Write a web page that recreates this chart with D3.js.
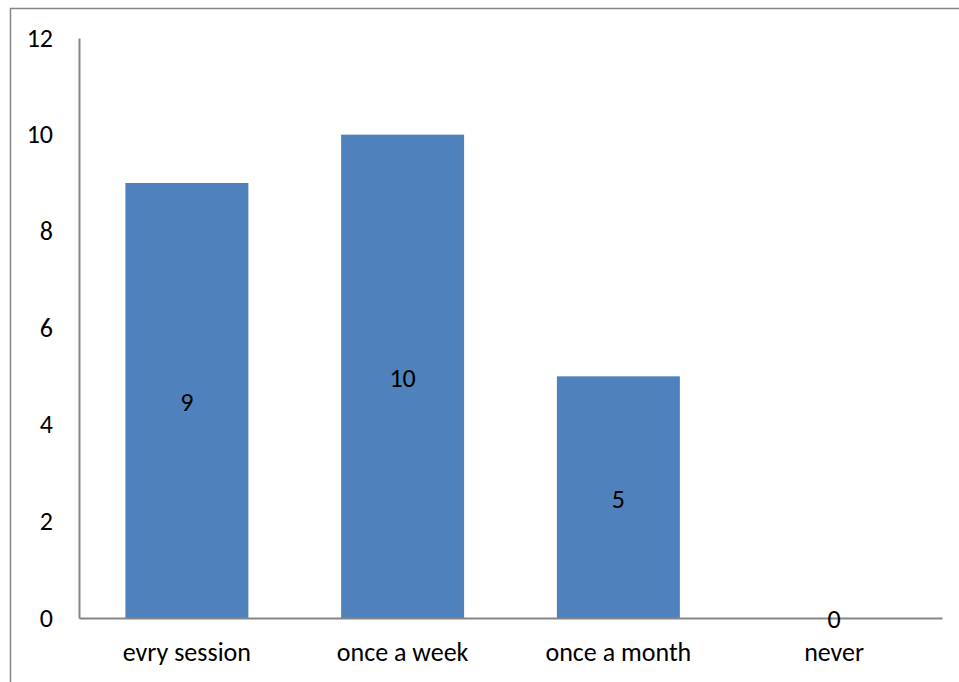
<!DOCTYPE html>
<html>
<head>
<meta charset="utf-8">
<script src="https://cdn.jsdelivr.net/npm/d3@7"></script>
<style>
  html, body { margin: 0; padding: 0; background: #fff; }
  svg { display: block; }
  text { font-family: Carlito, "Liberation Sans", Arial, sans-serif; fill: #000; }
</style>
</head>
<body>
<svg id="chart" width="959" height="682"></svg>
<script>
// Responses per category
const categories = ["evry session", "once a week", "once a month", "never"];
const counts = [9, 10, 5, 0];
const yTicks = [0, 2, 4, 6, 8, 10, 12];

const W = 959, H = 682;
const plot = { left: 79, right: 942, top: 38, bottom: 618 };
const fontSize = "26px";

const svg = d3.select("#chart");

// Outer chart frame
svg.append("rect")
  .attr("x", 10.5).attr("y", 8.5)
  .attr("width", W + 20).attr("height", H + 20)
  .attr("fill", "none").attr("stroke", "#868686").attr("stroke-width", 1.5);

const x = d3.scaleBand()
  .domain(categories)
  .range([plot.left, plot.right])
  .paddingInner(0.43)
  .paddingOuter(0.215);

const y = d3.scaleLinear().domain([0, 12]).range([plot.bottom, plot.top]);

// Bars
svg.append("g").selectAll("rect")
  .data(categories)
  .join("rect")
  .attr("x", (d) => x(d))
  .attr("width", x.bandwidth())
  .attr("y", (d, i) => y(counts[i]))
  .attr("height", (d, i) => y(0) - y(counts[i]))
  .attr("fill", "#4F81BD");

// Y axis
const yAxis = svg.append("g")
  .attr("transform", `translate(${plot.left},0)`)
  .call(d3.axisLeft(y).tickValues(yTicks).tickSize(0).tickPadding(26).tickFormat(d3.format("d")));
yAxis.select(".domain").attr("stroke", "#868686").attr("stroke-width", 2);
yAxis.selectAll("text").style("font-size", fontSize).attr("font-family", null);

// X axis
const xAxis = svg.append("g")
  .attr("transform", `translate(0,${plot.bottom})`)
  .call(d3.axisBottom(x).tickSize(0).tickPadding(25));
xAxis.select(".domain").attr("stroke", "#868686").attr("stroke-width", 2);
xAxis.selectAll("text").style("font-size", fontSize).attr("font-family", null);

// Value labels centred in each bar
svg.append("g").selectAll("text")
  .data(categories)
  .join("text")
  .attr("x", (d) => x(d) + x.bandwidth() / 2)
  .attr("y", (d, i) => (y(counts[i]) + y(0)) / 2)
  .attr("dy", "0.4em")
  .attr("text-anchor", "middle")
  .style("font-size", fontSize)
  .text((d, i) => counts[i]);
</script>
</body>
</html>
